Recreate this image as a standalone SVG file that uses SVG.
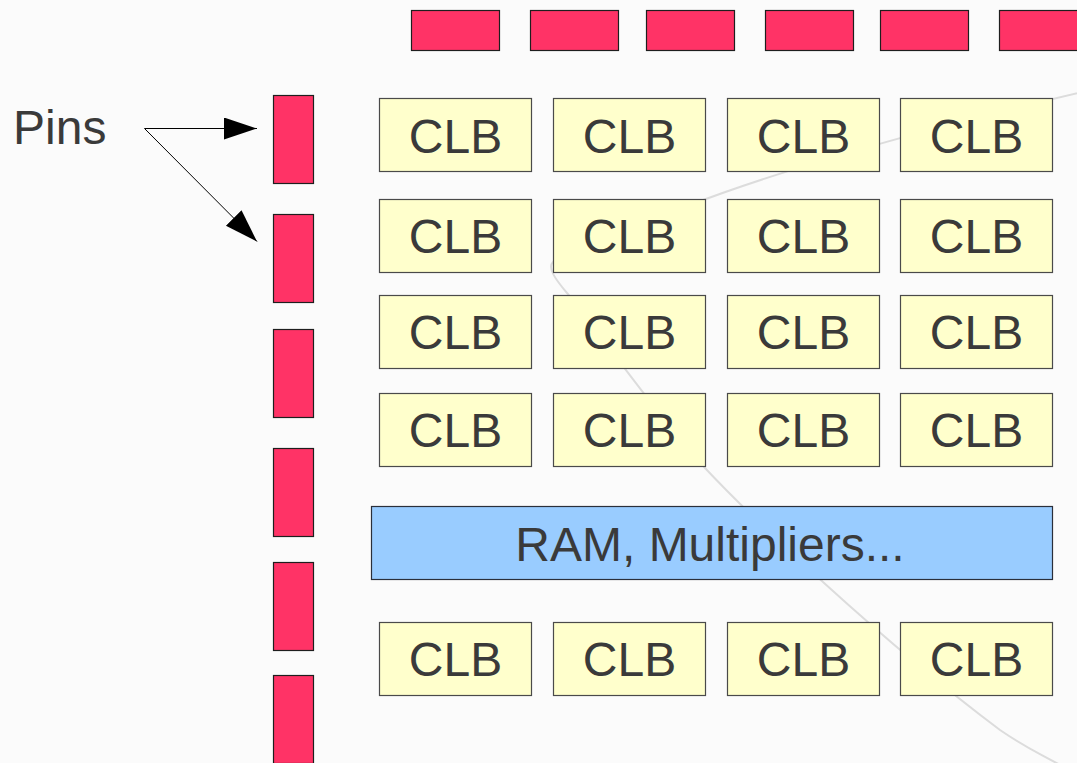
<svg xmlns="http://www.w3.org/2000/svg" width="1077" height="763" viewBox="0 0 1077 763">
  <style>
    .pin { fill: #ff3366; stroke: #1e1e1e; stroke-width: 1.2; }
    .clb rect { fill: #ffffcc; stroke: #4a4a4a; stroke-width: 1.2; }
    .ram rect { fill: #99ccff; stroke: #2a2f3a; stroke-width: 1.2; }
    text { font-family: "Liberation Sans", Arial, sans-serif; font-size: 48px; fill: #3a3a3a; }
    .clb text, .ram text { text-anchor: middle; }
    .edge { stroke: #000; stroke-width: 1; fill: none; marker-end: url(#arrow); }
    .die { stroke: #dcdcdc; stroke-width: 2; fill: none; }
  </style>
  <defs>
    <marker id="arrow" markerUnits="userSpaceOnUse" markerWidth="34" markerHeight="23" refX="33" refY="11" orient="auto">
      <path d="M0,0 L33,11 L0,22 Z" fill="#000"/>
    </marker>
  </defs>

  <!-- background -->
  <rect x="0" y="0" width="1077" height="763" fill="#fbfbfb"/>

  <!-- faint die outline behind the fabric -->
  <path class="die" d="M1095,89 C960,120 800,163 690,205 C620,232 565,248 553,262 C547,268 556,280 567,293 C590,320 660,420 705,468 C750,516 880,640 1000,730 C1035,754 1075,772 1110,790"/>

  <!-- top I/O pins -->
  <g id="pins-top">
    <rect class="pin" x="411.5" y="10.5" width="88" height="40"/>
    <rect class="pin" x="530.5" y="10.5" width="88" height="40"/>
    <rect class="pin" x="646.5" y="10.5" width="88" height="40"/>
    <rect class="pin" x="765.5" y="10.5" width="88" height="40"/>
    <rect class="pin" x="880.5" y="10.5" width="88" height="40"/>
    <rect class="pin" x="999.5" y="10.5" width="88" height="40"/>
  </g>

  <!-- left I/O pins -->
  <g id="pins-left">
    <rect id="pin-1" class="pin" x="273.5" y="95.5" width="40" height="88"/>
    <rect id="pin-2" class="pin" x="273.5" y="214.5" width="40" height="88"/>
    <rect class="pin" x="273.5" y="329.5" width="40" height="88"/>
    <rect class="pin" x="273.5" y="448.5" width="40" height="88"/>
    <rect class="pin" x="273.5" y="562.5" width="40" height="88"/>
    <rect class="pin" x="273.5" y="675.5" width="40" height="88"/>
  </g>

  <!-- label -->
  <g id="pins-label">
    <text x="13" y="144">Pins</text>
  </g>

  <!-- CLB grid -->
  <g id="clb-r1c1" class="clb"><rect x="379.5" y="98.5" width="152" height="73"/><text x="455.5" y="153">CLB</text></g>
  <g id="clb-r1c2" class="clb"><rect x="553.5" y="98.5" width="152" height="73"/><text x="629.5" y="153">CLB</text></g>
  <g id="clb-r1c3" class="clb"><rect x="727.5" y="98.5" width="152" height="73"/><text x="803.5" y="153">CLB</text></g>
  <g id="clb-r1c4" class="clb"><rect x="900.5" y="98.5" width="152" height="73"/><text x="976.5" y="153">CLB</text></g>

  <g id="clb-r2c1" class="clb"><rect x="379.5" y="199.5" width="152" height="73"/><text x="455.5" y="253">CLB</text></g>
  <g id="clb-r2c2" class="clb"><rect x="553.5" y="199.5" width="152" height="73"/><text x="629.5" y="253">CLB</text></g>
  <g id="clb-r2c3" class="clb"><rect x="727.5" y="199.5" width="152" height="73"/><text x="803.5" y="253">CLB</text></g>
  <g id="clb-r2c4" class="clb"><rect x="900.5" y="199.5" width="152" height="73"/><text x="976.5" y="253">CLB</text></g>

  <g id="clb-r3c1" class="clb"><rect x="379.5" y="295.5" width="152" height="73"/><text x="455.5" y="349">CLB</text></g>
  <g id="clb-r3c2" class="clb"><rect x="553.5" y="295.5" width="152" height="73"/><text x="629.5" y="349">CLB</text></g>
  <g id="clb-r3c3" class="clb"><rect x="727.5" y="295.5" width="152" height="73"/><text x="803.5" y="349">CLB</text></g>
  <g id="clb-r3c4" class="clb"><rect x="900.5" y="295.5" width="152" height="73"/><text x="976.5" y="349">CLB</text></g>

  <g id="clb-r4c1" class="clb"><rect x="379.5" y="393.5" width="152" height="73"/><text x="455.5" y="447">CLB</text></g>
  <g id="clb-r4c2" class="clb"><rect x="553.5" y="393.5" width="152" height="73"/><text x="629.5" y="447">CLB</text></g>
  <g id="clb-r4c3" class="clb"><rect x="727.5" y="393.5" width="152" height="73"/><text x="803.5" y="447">CLB</text></g>
  <g id="clb-r4c4" class="clb"><rect x="900.5" y="393.5" width="152" height="73"/><text x="976.5" y="447">CLB</text></g>

  <!-- hard blocks row -->
  <g id="ram" class="ram"><rect x="371.5" y="506.5" width="681" height="73"/><text x="710" y="561">RAM, Multipliers...</text></g>

  <g id="clb-r5c1" class="clb"><rect x="379.5" y="622.5" width="152" height="73"/><text x="455.5" y="676">CLB</text></g>
  <g id="clb-r5c2" class="clb"><rect x="553.5" y="622.5" width="152" height="73"/><text x="629.5" y="676">CLB</text></g>
  <g id="clb-r5c3" class="clb"><rect x="727.5" y="622.5" width="152" height="73"/><text x="803.5" y="676">CLB</text></g>
  <g id="clb-r5c4" class="clb"><rect x="900.5" y="622.5" width="152" height="73"/><text x="976.5" y="676">CLB</text></g>

  <!-- label pointers -->
  <g id="connectors">
    <line class="edge" x1="144.5" y1="128.5" x2="257" y2="128.5"/>
    <line class="edge" x1="144.5" y1="128.5" x2="257" y2="241.5"/>
  </g>
</svg>
